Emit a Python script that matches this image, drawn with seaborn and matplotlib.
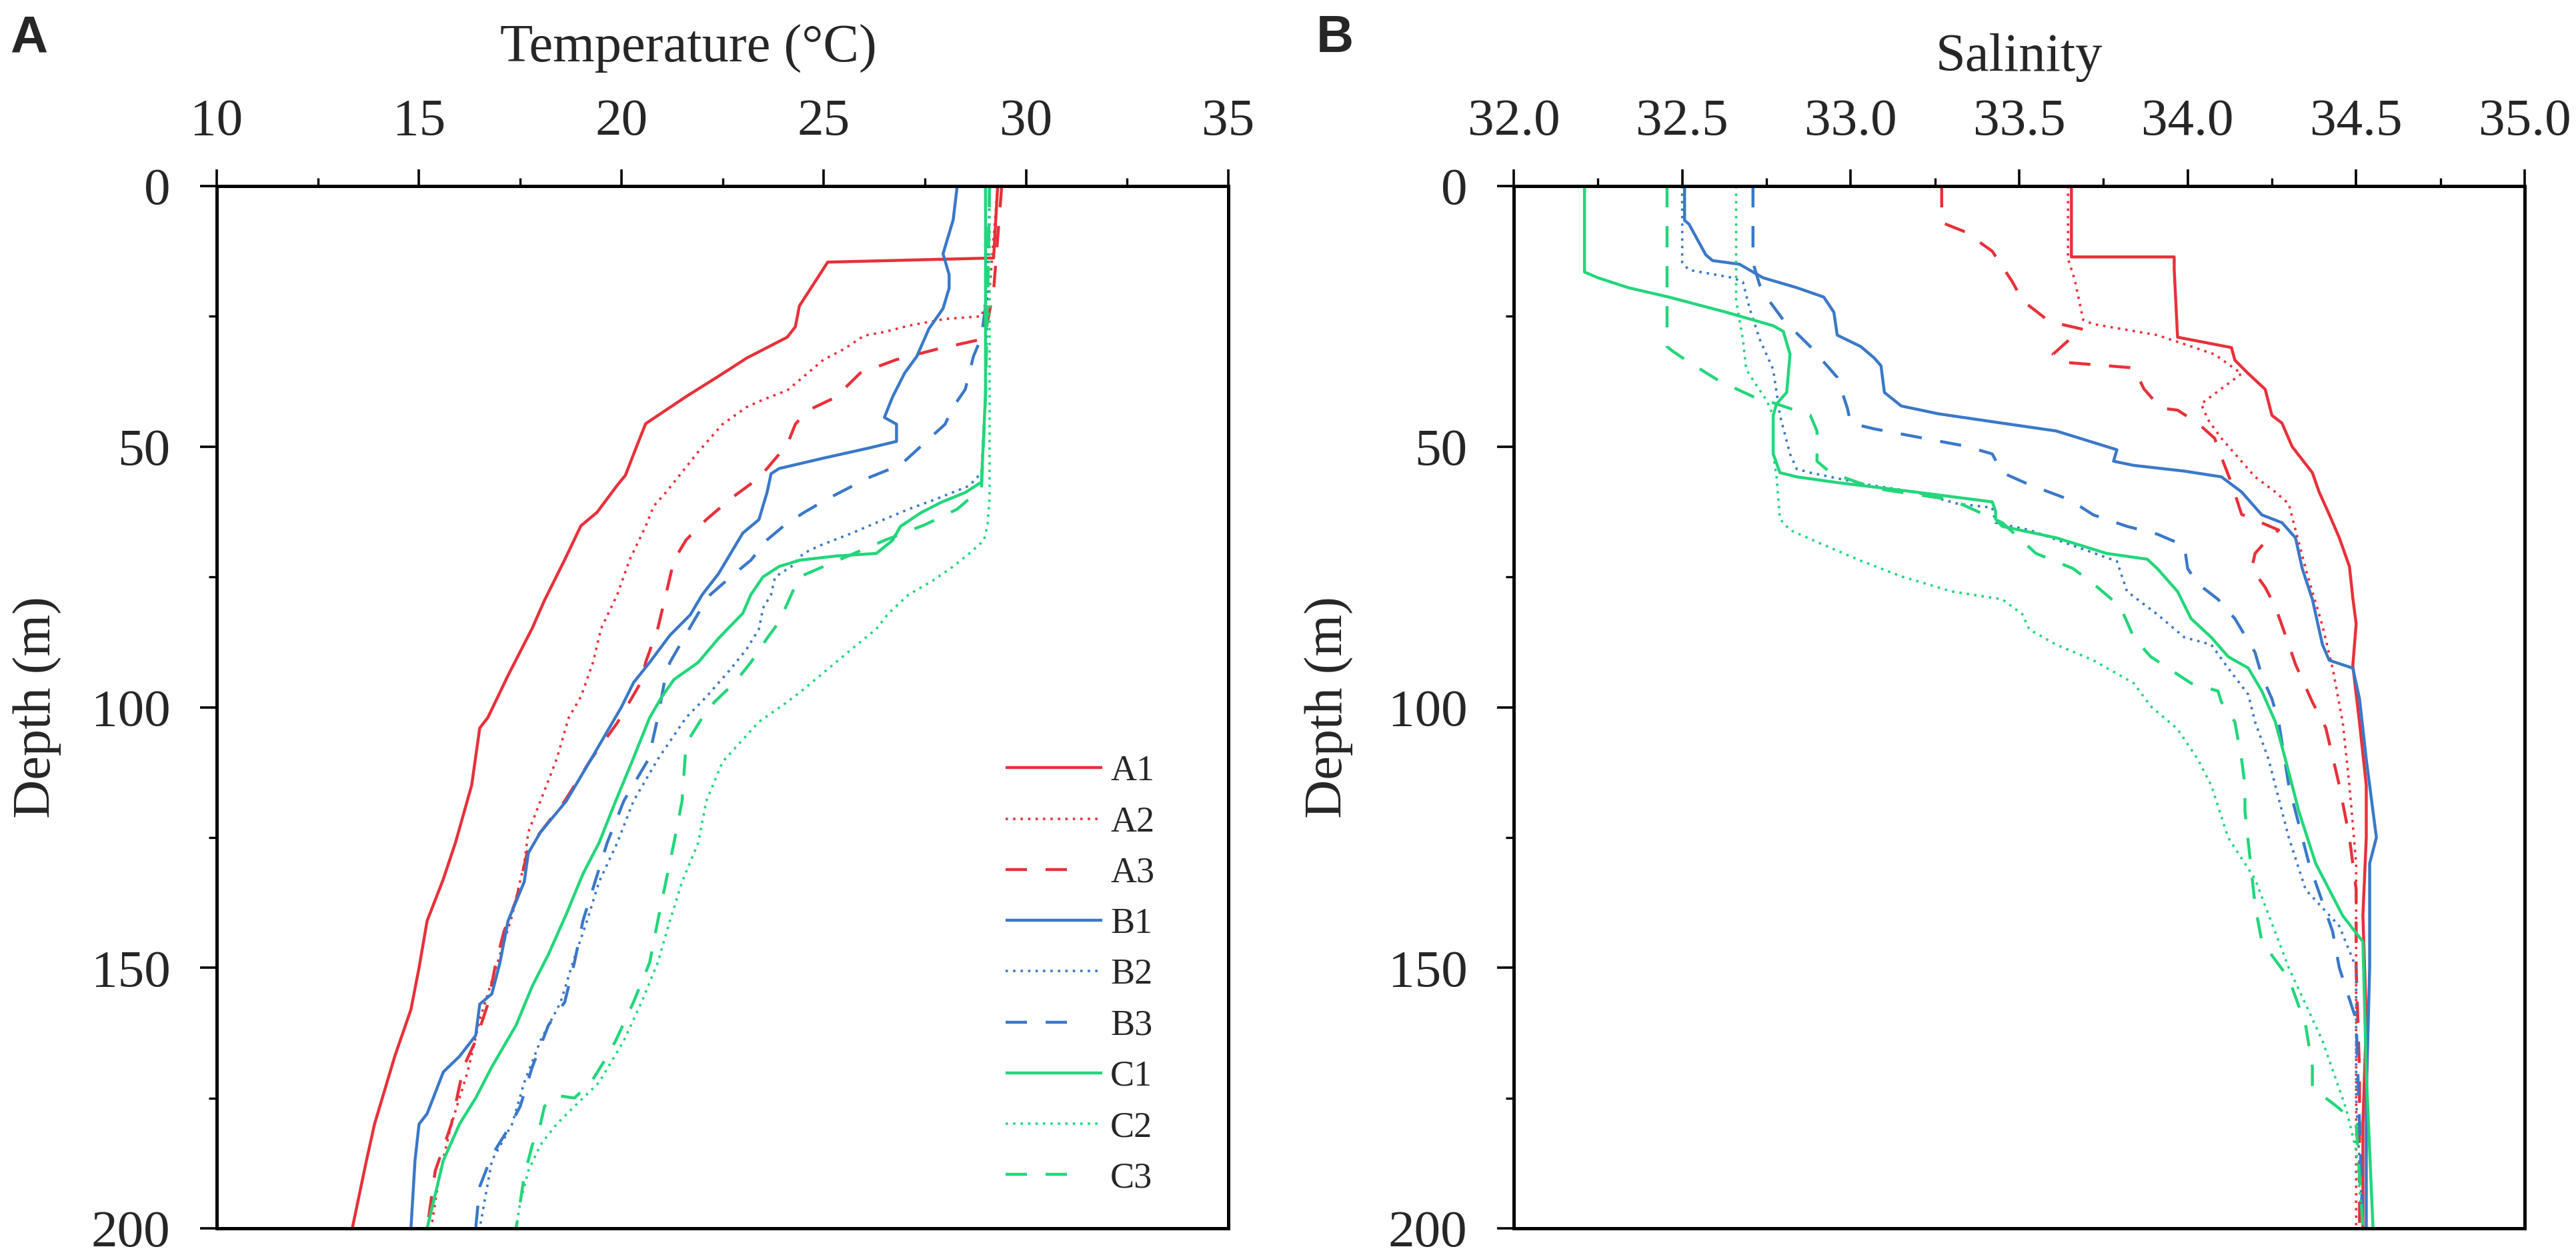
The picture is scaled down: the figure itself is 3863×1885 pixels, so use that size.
import numpy as np
import pandas as pd
import matplotlib
matplotlib.use("Agg")
import matplotlib.pyplot as plt
from matplotlib.lines import Line2D
import seaborn as sns

# ---------------- data: temperature profiles (depth m, temperature degC) ----------------
stations = ["A1", "A2", "A3", "B1", "B2", "B3", "C1", "C2", "C3"]

A1_T_depth = [0, 13.8, 14.6, 17, 23, 27, 29, 31, 33, 36.5, 40.4, 45.6, 49.5, 55.5, 57.4, 62.6, 65.2, 71.7,
              79.5, 84.8, 93.9, 102, 104, 115, 126, 133, 141, 150, 158, 167, 180, 187, 200]
A1_T = [29.3, 29.2, 25.1, 24.9, 24.4, 24.3, 24.1, 23.6, 23.1, 22.4, 21.6, 20.6, 20.4, 20.1, 19.9, 19.4, 19.0, 18.6,
        18.1, 17.8, 17.2, 16.7, 16.5, 16.3, 15.9, 15.6, 15.2, 15.0, 14.8, 14.4, 13.9, 13.7, 13.35]

A2_T_depth = [0, 10, 20, 25, 25.5, 26.8, 28, 28.7, 31.3, 33.3, 36.6, 39.2, 41, 42.4, 45.7, 51, 54.9, 58.8, 61.4,
              65.3, 71.8, 78.4, 84.9, 91.4, 98, 102, 110, 118, 124, 130, 140, 150, 160, 170, 180, 190, 200]
A2_T = [29.3, 29.2, 29.1, 28.9, 28.0, 27.1, 26.5, 26.0, 25.5, 25.0, 24.5, 24.1, 23.5, 23.1, 22.5, 21.9, 21.5, 21.1, 20.8,
        20.6, 20.2, 19.9, 19.5, 19.3, 19.0, 18.7, 18.4, 18.0, 17.7, 17.6, 17.3, 16.9, 16.5, 16.2, 15.8, 15.5, 15.3]

A3_T_depth = [0, 10, 20, 28, 29.4, 31.3, 33.3, 35.9, 40.5, 43.1, 45.7, 49.6, 54.2, 56, 60, 64, 67.9, 71.8, 78.4,
              84.9, 91.4, 95, 103, 110, 118, 124, 127, 137, 143, 149, 157, 164, 169, 180, 189, 200]
A3_T = [29.4, 29.3, 29.2, 29.0, 28.9, 27.8, 26.8, 25.9, 25.3, 24.6, 24.3, 24.1, 23.6, 23.4, 22.7, 22.1, 21.6, 21.3, 21.1,
        20.9, 20.6, 20.5, 19.9, 19.25, 18.6, 18.0, 17.7, 17.4, 17.1, 16.9, 16.7, 16.4, 16.1, 15.8, 15.4, 15.2]

B1_T_depth = [0, 6.5, 13, 17, 19.6, 23.5, 27.4, 32.7, 35.9, 40.5, 44.4, 45.7, 49, 50.3, 52.2, 54.2, 55.2, 58.8, 64,
              66.6, 70.5, 74.4, 78.4, 82.3, 86.2, 91.4, 95.3, 100, 110, 118, 124, 128, 133.5, 141, 149, 155, 157,
              163, 167, 170, 178, 180, 187, 200]
B1_T = [28.3, 28.2, 27.95, 28.1, 28.1, 27.95, 27.6, 27.3, 27.0, 26.7, 26.5, 26.8, 26.8, 26.1, 25.0, 23.9, 23.7, 23.6, 23.4,
        23.0, 22.7, 22.4, 22.0, 21.7, 21.2, 20.7, 20.3, 20.0, 19.25, 18.64, 18.0, 17.7, 17.6, 17.2, 17.0, 16.8, 16.5,
        16.4, 16.0, 15.6, 15.2, 15.0, 14.9, 14.8]

B2_T_depth = [0, 20, 40, 55, 57.5, 60, 62, 64.6, 66.6, 69, 70.5, 73, 75, 78.4, 81, 85, 88.8, 92.7, 98, 102, 110,
              118, 126, 133.5, 141, 149, 156.6, 164, 172, 180, 187, 200]
B2_T = [29.1, 29.05, 29.0, 28.9, 28.6, 27.8, 27.1, 26.3, 25.7, 24.9, 24.5, 24.2, 23.8, 23.7, 23.5, 23.4, 23.1, 22.7, 22.1,
        21.6, 20.9, 20.3, 19.9, 19.45, 19.15, 18.8, 18.5, 18.0, 17.6, 17.3, 16.8, 16.5]

B3_T_depth = [0, 20, 29, 32.7, 39, 42.4, 45.7, 49.6, 53.5, 56, 58, 60, 62.7, 65.3, 67.9, 71.8, 75, 78.4, 82, 86,
              91.4, 95.3, 102, 110, 118, 126, 133.5, 141, 149, 156.6, 161, 169, 176.6, 181, 186, 192, 200]
B3_T = [29.1, 29.05, 28.9, 28.7, 28.5, 28.2, 28.0, 27.45, 26.9, 26.1, 25.6, 25.1, 24.5, 24.0, 23.6, 23.2, 22.7, 22.2,
        21.9, 21.6, 21.2, 21.06, 20.9, 20.67, 20.06, 19.65, 19.35, 19.05, 18.84, 18.6, 18.2, 17.8, 17.5, 17.2, 16.8,
        16.5, 16.4]

C1_T_depth = [0, 20, 40, 56.8, 58.8, 60.7, 62.7, 65.3, 68, 70.5, 71, 71.8, 73, 75, 78.4, 82, 86.8, 91.4, 94.7, 98,
              102, 110.5, 118, 126, 132, 139.7, 147.4, 153.5, 161, 169, 175, 180, 187, 193.5, 200]
C1_T = [29.0, 29.0, 29.0, 28.9, 28.5, 27.9, 27.4, 26.9, 26.7, 26.3, 25.3, 24.4, 23.9, 23.5, 23.2, 23.0, 22.4, 21.9, 21.3,
        21.0, 20.7, 20.26, 19.86, 19.45, 19.05, 18.64, 18.2, 17.8, 17.4, 16.8, 16.4, 16.0, 15.6, 15.4, 15.2]

C2_T_depth = [0, 20, 40, 60, 65, 68, 70.5, 73, 75.7, 78.4, 82, 85, 88.8, 92.7, 96.6, 99, 102.8, 110.5, 118, 126,
              133.5, 141, 149, 156.6, 164, 172, 176.6, 180, 184, 189, 195, 200]
C2_T = [29.1, 29.1, 29.1, 29.1, 29.05, 28.96, 28.6, 28.2, 27.7, 27.1, 26.6, 26.3, 25.7, 25.1, 24.5, 24.1, 23.4, 22.5,
        22.1, 21.9, 21.5, 21.2, 20.9, 20.5, 20.06, 19.45, 18.84, 18.4, 18.0, 17.7, 17.5, 17.4]

C3_T_depth = [0, 20, 40, 58, 62, 65, 68, 71, 75, 78.4, 83.6, 86.8, 91.4, 95.3, 99, 102, 107, 118, 126, 133.5, 141,
              149, 156.6, 164, 167, 172, 175, 174.5, 176.6, 180, 184, 190, 200]
C3_T = [29.1, 29.05, 29.0, 28.9, 28.3, 27.5, 26.5, 25.6, 24.4, 24.2, 23.9, 23.6, 23.2, 22.8, 22.3, 22.0, 21.6, 21.5,
        21.3, 21.1, 20.9, 20.7, 20.3, 19.86, 19.65, 19.25, 18.84, 18.4, 18.1, 18.0, 17.8, 17.6, 17.4]

# ---------------- data: salinity profiles (depth m, salinity) ----------------
A1_S_depth = [0, 13.6, 13.6, 16, 29, 31, 33.4, 36, 39, 44, 45.5, 50, 55, 58.7, 63, 67.5, 73, 79, 84, 92, 103, 115,
              125, 140, 160, 180, 200]
A1_S = [33.655, 33.655, 33.96, 33.96, 33.97, 34.13, 34.14, 34.18, 34.23, 34.25, 34.28, 34.31, 34.37, 34.39, 34.42,
        34.45, 34.48, 34.49, 34.50, 34.49, 34.51, 34.53, 34.53, 34.52, 34.53, 34.52, 34.52]

A2_S_depth = [0, 14, 18, 25.7, 26.5, 28.6, 32.3, 36, 41.8, 44.8, 48.4, 55.8, 58.7, 61, 66, 73.4, 84.4, 92.5, 102.8,
              115, 130, 150, 175, 200]
A2_S = [33.645, 33.645, 33.665, 33.69, 33.72, 33.91, 34.08, 34.16, 34.04, 34.06, 34.1, 34.2, 34.26, 34.3, 34.32, 34.35,
        34.4, 34.43, 34.46, 34.48, 34.5, 34.5, 34.5, 34.5]

A3_S_depth = [0, 7, 8.8, 12.5, 18.4, 22, 26, 27.5, 29.4, 32.3, 33.8, 34.9, 38.9, 42.6, 43, 45.5, 48.4, 52, 57, 63,
              66, 68.3, 70.5, 73.4, 77, 80.7, 88, 91.8, 99, 104, 115, 125, 135, 150, 170, 200]
A3_S = [33.27, 33.27, 33.34, 33.42, 33.48, 33.51, 33.59, 33.69, 33.65, 33.6, 33.63, 33.84, 33.87, 33.92, 33.97, 34.03,
        34.08, 34.1, 34.13, 34.16, 34.27, 34.23, 34.2, 34.19, 34.23, 34.26, 34.3, 34.32, 34.37, 34.41, 34.45, 34.48,
        34.5, 34.5, 34.51, 34.51]

B1_S_depth = [0, 6.6, 7.3, 13.2, 14.3, 15, 17.6, 19.5, 21.3, 24.2, 28.6, 30.8, 33, 34.5, 39.6, 42.2, 43.7, 45.5, 47,
              49.2, 50.6, 52.8, 53.6, 54.7, 55.8, 58.7, 63.1, 64.6, 67.5, 73.4, 79.3, 88, 91, 92.5, 98.4, 110, 115,
              125, 130, 150, 175, 200]
B1_S = [32.507, 32.507, 32.52, 32.57, 32.59, 32.67, 32.74, 32.84, 32.92, 32.95, 32.96, 33.03, 33.07, 33.09, 33.1, 33.15,
        33.26, 33.45, 33.61, 33.72, 33.79, 33.78, 33.84, 33.99, 34.1, 34.16, 34.22, 34.28, 34.32, 34.34, 34.37, 34.4,
        34.42, 34.49, 34.51, 34.53, 34.54, 34.56, 34.54, 34.54, 34.53, 34.53]

B2_S_depth = [0, 14.7, 16.1, 17.6, 18.4, 23.5, 29.4, 35.2, 39.6, 44, 51.4, 54.3, 55, 57.3, 58.7, 61, 61.7, 64.6, 66,
              69, 72, 77.8, 82.2, 86.6, 88, 92.5, 97.6, 102.8, 110, 115, 125, 135, 142, 150, 175, 200]
B2_S = [32.5, 32.5, 32.52, 32.65, 32.68, 32.7, 32.73, 32.77, 32.78, 32.79, 32.82, 32.84, 32.88, 33.05, 33.19, 33.32,
        33.42, 33.43, 33.53, 33.66, 33.79, 33.82, 33.91, 33.99, 34.07, 34.12, 34.18, 34.2, 34.24, 34.26, 34.3, 34.35,
        34.45, 34.5, 34.5, 34.52]

B3_S_depth = [0, 14.7, 19, 21.3, 25.7, 30.8, 36.7, 42.6, 45.5, 46.6, 49.9, 51.4, 55, 57.3, 60.2, 63.1, 65.3, 66.8, 69,
              73.4, 76.3, 79.3, 83, 89.5, 94, 98.4, 102.8, 115, 130, 143, 150, 160, 200]
B3_S = [32.71, 32.71, 32.73, 32.75, 32.8, 32.88, 32.96, 32.99, 33.0, 33.07, 33.34, 33.42, 33.45, 33.53, 33.65, 33.72,
        33.82, 33.91, 33.99, 34.0, 34.03, 34.09, 34.14, 34.2, 34.22, 34.25, 34.27, 34.3, 34.36, 34.43, 34.45, 34.5,
        34.52]

C1_S_depth = [0, 16.5, 17.6, 19.5, 21.3, 24.2, 26.8, 27.9, 32.3, 39.6, 41.8, 44, 51.4, 55, 55.8, 56.9, 58.7, 60.6,
              62.4, 63.9, 65.3, 67.5, 70.5, 71.6, 73.4, 77.8, 83, 86.6, 90.3, 92.5, 96.9, 102.8, 110, 115, 120, 130,
              140, 145, 170, 200]
C1_S = [32.21, 32.21, 32.25, 32.34, 32.46, 32.63, 32.77, 32.8, 32.82, 32.81, 32.78, 32.77, 32.77, 32.79, 32.84, 32.96,
        33.19, 33.42, 33.43, 33.43, 33.45, 33.61, 33.76, 33.88, 33.91, 33.97, 34.01, 34.07, 34.12, 34.18, 34.22, 34.26,
        34.29, 34.31, 34.33, 34.38, 34.46, 34.52, 34.53, 34.55]

C2_S_depth = [0, 22, 25.7, 29.4, 35.2, 38.2, 41.1, 44, 51.4, 55.8, 63.9, 66, 68.3, 71.9, 74.9, 77.8, 79.3, 82.2, 85.1,
              88, 91, 95.4, 99.8, 104.2, 110, 115, 125, 133, 150, 164, 177, 185, 200]
C2_S = [32.66, 32.66, 32.67, 32.68, 32.69, 32.72, 32.75, 32.77, 32.77, 32.78, 32.79, 32.82, 32.9, 33.03, 33.15, 33.3,
        33.45, 33.51, 33.53, 33.61, 33.72, 33.84, 33.89, 33.97, 34.03, 34.07, 34.12, 34.2, 34.3, 34.4, 34.47, 34.5,
        34.52]

C3_S_depth = [0, 30.8, 31.6, 33.8, 37.4, 40.4, 41.8, 44, 47, 52.8, 55, 58, 60.2, 64.6, 70.5, 73.4, 76.3, 80.7, 86.6,
              90.3, 95.4, 96.9, 99, 102.8, 110, 115, 120, 138, 145, 152, 161, 169, 173, 177, 180, 200]
C3_S = [32.455, 32.455, 32.47, 32.52, 32.61, 32.71, 32.78, 32.88, 32.9, 32.9, 32.94, 33.07, 33.3, 33.45, 33.55, 33.66,
        33.72, 33.8, 33.84, 33.89, 34.01, 34.09, 34.1, 34.14, 34.16, 34.17, 34.17, 34.2, 34.22, 34.3, 34.35, 34.37,
        34.37, 34.45, 34.5, 34.52]

temp_x_ticks = [10, 15, 20, 25, 30, 35]
sal_x_ticks = [32.0, 32.5, 33.0, 33.5, 34.0, 34.5, 35.0]
depth_ticks = [0, 50, 100, 150, 200]

# ---------------- build tables ----------------
T_profiles = {"A1": (A1_T, A1_T_depth), "A2": (A2_T, A2_T_depth), "A3": (A3_T, A3_T_depth),
              "B1": (B1_T, B1_T_depth), "B2": (B2_T, B2_T_depth), "B3": (B3_T, B3_T_depth),
              "C1": (C1_T, C1_T_depth), "C2": (C2_T, C2_T_depth), "C3": (C3_T, C3_T_depth)}
S_profiles = {"A1": (A1_S, A1_S_depth), "A2": (A2_S, A2_S_depth), "A3": (A3_S, A3_S_depth),
              "B1": (B1_S, B1_S_depth), "B2": (B2_S, B2_S_depth), "B3": (B3_S, B3_S_depth),
              "C1": (C1_S, C1_S_depth), "C2": (C2_S, C2_S_depth), "C3": (C3_S, C3_S_depth)}


def to_long(profiles):
    rows = []
    for st in stations:
        vals, deps = profiles[st]
        for v, d in zip(vals, deps):
            rows.append({"station": st, "value": v, "depth": d})
    return pd.DataFrame(rows)


dfT = to_long(T_profiles)
dfS = to_long(S_profiles)

RED, BLUE, GREEN = "#E8303A", "#3A78C8", "#22D67A"
palette = {"A1": RED, "A2": RED, "A3": RED, "B1": BLUE, "B2": BLUE, "B3": BLUE,
           "C1": GREEN, "C2": GREEN, "C3": GREEN}
LW_SOLID, LW_DOT = 3.2, 2.6
dash_dot = (1.0, 2.1)
dash_long = (7.2, 6.3)
dashes = {"A1": "", "A2": dash_dot, "A3": dash_long, "B1": "", "B2": dash_dot, "B3": dash_long,
          "C1": "", "C2": dash_dot, "C3": dash_long}
kind = {"A1": "s", "A2": "d", "A3": "l", "B1": "s", "B2": "d", "B3": "l", "C1": "s", "C2": "d", "C3": "l"}

# ---------------- style ----------------
sns.set_style("ticks")
plt.rcParams["font.family"] = ["Liberation Serif", "DejaVu Serif"]
plt.rcParams["axes.linewidth"] = 3.6

W, H = 3863, 1885
fig = plt.figure(figsize=(W / 100, H / 100), dpi=100)


def px_axes(x0, x1, y0, y1):
    return fig.add_axes([x0 / W, 1 - y1 / H, (x1 - x0) / W, (y1 - y0) / H])


axA = px_axes(325, 1842, 279, 1842)
axB = px_axes(2270, 3786, 279, 1842)

for ax, df in ((axA, dfT), (axB, dfS)):
    sns.lineplot(data=df, x="value", y="depth", hue="station", style="station",
                 hue_order=stations, style_order=stations, palette=palette, dashes=dashes,
                 sort=False, estimator=None, linewidth=LW_SOLID, legend=False, ax=ax)
    for st, ln in zip(stations, ax.get_lines()):
        if kind[st] == "d":
            ln.set_linewidth(LW_DOT)
        ln.set_solid_capstyle("butt")
        ln.set_dash_capstyle("butt")

TICK_FS = 57
LABEL_FS = 58
for ax in (axA, axB):
    ax.set_ylim(200, 0)
    ax.set_yticks(depth_ticks)
    ax.yaxis.set_minor_locator(matplotlib.ticker.MultipleLocator(25))
    ax.xaxis.tick_top()
    ax.xaxis.set_label_position("top")
    ax.tick_params(axis="both", which="major", direction="out", length=18, width=2.6,
                   labelsize=TICK_FS, color="black")
    ax.tick_params(axis="both", which="minor", direction="out", length=9, width=2.4, color="black")
    ax.tick_params(axis="x", which="both", top=True, bottom=False, pad=25)
    ax.tick_params(axis="y", which="both", left=True, right=False, pad=32)
    for s in ax.spines.values():
        s.set_visible(True)
        s.set_color("black")
        s.set_linewidth(3.6)
    ax.set_ylabel("Depth (m)", fontsize=LABEL_FS)

axA.set_xlim(10, 35)
axA.set_xticks(temp_x_ticks)
axA.xaxis.set_minor_locator(matplotlib.ticker.MultipleLocator(2.5))
axA.set_xlabel("Temperature (\u00b0C)", fontsize=LABEL_FS)
axA.xaxis.set_label_coords(0.466, 1.119)
axA.yaxis.set_label_coords(-0.153, 0.5)

axB.set_xlim(32, 35)
axB.set_xticks(sal_x_ticks)
axB.set_xticklabels([f"{v:.1f}" for v in sal_x_ticks])
axB.xaxis.set_minor_locator(matplotlib.ticker.MultipleLocator(0.25))
axB.set_xlabel("Salinity", fontsize=LABEL_FS)
axB.xaxis.set_label_coords(0.5, 1.111)
axB.yaxis.set_label_coords(-0.158, 0.5)

# ---------------- legend (panel A) ----------------
proxy = []
for st in stations:
    k = kind[st]
    if k == "s":
        h = Line2D([], [], color=palette[st], lw=LW_SOLID, solid_capstyle="butt")
    elif k == "d":
        h = Line2D([], [], color=palette[st], lw=LW_DOT, dashes=dash_dot, dash_capstyle="butt")
    else:
        h = Line2D([], [], color=palette[st], lw=LW_SOLID, dashes=dash_long + (7.2, 40.0),
                   dash_capstyle="butt")
    proxy.append(h)

LEG_FS = 39
fs_px = LEG_FS * 100 / 72
ax_h_px = 1563
anchor_x = (1508 - 325) / 1517


def make_legend(ls, ay):
    return axA.legend(proxy, stations, loc="upper left", bbox_to_anchor=(anchor_x, ay),
                      frameon=False, fontsize=LEG_FS, handlelength=145 / fs_px,
                      handletextpad=12 / fs_px, labelspacing=ls, borderpad=0, borderaxespad=0)


ls, ay = 0.5, 0.465
leg = make_legend(ls, ay)
fig.canvas.draw()
r = fig.canvas.get_renderer()
for _ in range(3):
    ext = [t.get_window_extent(r) for t in leg.get_texts()]
    cy = [(e.y0 + e.y1) / 2 for e in ext]
    pitch = (cy[0] - cy[-1]) / (len(cy) - 1)
    ls = ls + (76.25 - pitch) / fs_px
    target_cy = H - 1157
    ay = ay + (target_cy - cy[0]) / ax_h_px
    leg.remove()
    leg = make_legend(ls, ay)
    fig.canvas.draw()

# panel letters
fig.text(15 / W, 1 - 78 / H, "A", fontsize=56, fontweight="bold",
         family=["Liberation Sans", "DejaVu Sans"], ha="left", va="baseline")
fig.text(1974 / W, 1 - 78 / H, "B", fontsize=56, fontweight="bold",
         family=["Liberation Sans", "DejaVu Sans"], ha="left", va="baseline")

fig.savefig("out.png", dpi=100, facecolor="white")
